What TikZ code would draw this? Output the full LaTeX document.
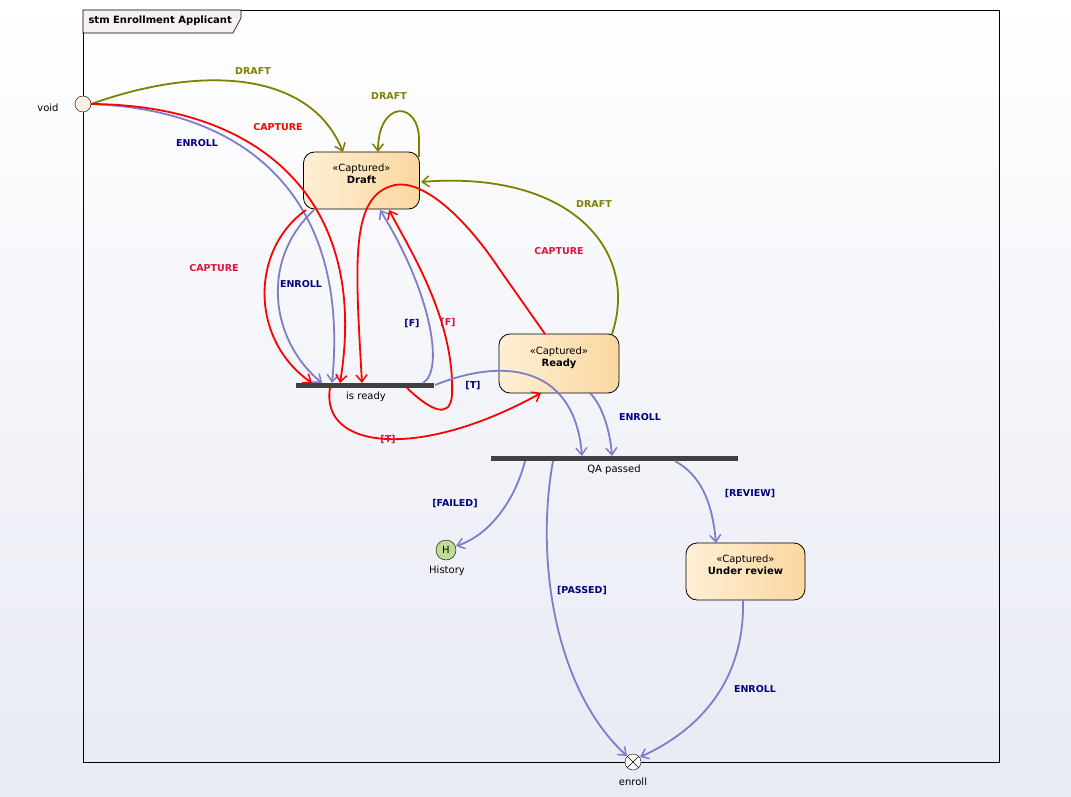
\documentclass[tikz,border=0pt]{standalone}
\usepackage{fontspec}
\setmainfont{DejaVu Sans}
\usetikzlibrary{arrows.meta,shapes.geometric}
\definecolor{olv}{RGB}{128,128,0}
\definecolor{lblue}{RGB}{125,125,200}
\definecolor{nav}{RGB}{0,0,128}
\definecolor{crim}{RGB}{220,20,60}
\definecolor{rd}{RGB}{255,0,0}
\definecolor{fl}{RGB}{255,239,213}
\definecolor{fr}{RGB}{250,215,160}
\tikzset{
 x=1pt,y=-1pt,
 every node/.style={font=\fontsize{10}{12}\selectfont},
 ar/.style={line width=1.8pt,-{Straight Barb[length=7pt,width=11pt,line width=1.5pt]}},
 ol/.style={ar,draw=olv}, re/.style={ar,draw=rd}, bl/.style={ar,draw=lblue},
 st/.style={draw,rounded corners=11pt,line width=0.8pt,minimum width=116pt,minimum height=57pt,left color=fl,right color=fr,align=center,text depth=14pt},
 bar/.style={fill=black!75,minimum height=5pt,inner sep=0pt},
 ln/.style={font=\fontsize{9.5}{11}\selectfont\bfseries,text=nav},
 lc/.style={font=\fontsize{9.5}{11}\selectfont\bfseries,text=crim},
 lo/.style={font=\fontsize{9.5}{11}\selectfont\bfseries,text=olv}
}
\begin{document}
\begin{tikzpicture}
\useasboundingbox (0,0) rectangle (1071,797);
\fill[white] (0,0) rectangle (1071,797);
\shade[top color=white,bottom color={rgb,255:red,232;green,234;blue,244}] (0,0) rectangle (1071,797);
\draw[line width=0.8pt] (83,10) rectangle (999,762);
\filldraw[fill={rgb,255:red,246;green,240;blue,244},line width=0.6pt] (83,10) -- (241,10) -- (241,18) -- (233,33) -- (83,33) -- cycle;
\node[anchor=west,font=\fontsize{10}{12}\selectfont\bfseries] (title) at (85,21) {stm Enrollment Applicant};

\node[st] (draft) at (361.5,180.5) {«Captured»\\\textbf{Draft}};
\node[st,minimum width=120pt,minimum height=59pt] (ready) at (559,363.5) {«Captured»\\\textbf{Ready}};
\node[st,minimum width=119pt] (review) at (745.5,571.5) {«Captured»\\\textbf{Under review}};
\node[bar,minimum width=138pt] (isr) at (365,385.5) {};
\node at (366,397) {is ready};
\node[bar,minimum width=247pt] (qa) at (614.5,458.5) {};
\node at (614,470) {QA passed};
\node[circle,draw,fill={rgb,255:red,253;green,240;blue,226},minimum size=16pt,inner sep=0pt] (void) at (83,104) {};
\node at (48,108) {void};
\node[circle,draw,fill={rgb,255:red,190;green,220;blue,150},minimum size=20pt,inner sep=0pt,font=\fontsize{10}{10}\selectfont] (hist) at (446,550) {H};
\node at (447,571) {History};
\node[circle,draw,fill=white,minimum size=16pt,inner sep=0pt] (enroll) at (633,762) {};
\draw (enroll.north east) -- (enroll.south west) (enroll.north west) -- (enroll.south east);
\node at (633,782) {enroll};

% void transitions
\draw[ol] (void.east) .. controls (200,65) and (310,70) .. (343,152);
\node[lo] at (253,71) {DRAFT};
\draw[bl] (void.east) .. controls (250,110) and (350,200) .. (332,383);
\draw[re] (void.east) .. controls (260,105) and (370,200) .. (340,383);
\node[lc,text=rd] at (278,127) {CAPTURE};
\node[ln] at (197,143) {ENROLL};
% self loop
\draw[ol] (419,157) -- (419,140) .. controls (419,100) and (378,100) .. (378,152);
\node[lo] at (389,96) {DRAFT};
% draft -> is ready
\draw[re] (306,210) .. controls (250,250) and (250,340) .. (312,383);
\node[lc] at (214,268) {CAPTURE};
\draw[bl] (314,210) .. controls (260,260) and (270,340) .. (322,383);
\node[ln] at (301,284) {ENROLL};
% ready -> is ready capture
\draw[re] (545,334) -- (500,270) .. controls (460,210) and (420,180) .. (395,185) .. controls (350,195) and (355,260) .. (362,383);
\node[lc] at (559,251) {CAPTURE};
% [F]
\draw[bl] (423,383) .. controls (445,370) and (430,290) .. (380,210);
\node[ln] at (412,324) {[F]};
\draw[re] (407,388) .. controls (430,410) and (450,420) .. (452,395) .. controls (455,320) and (410,250) .. (389,210);
\node[lc] at (448,323) {[F]};
% [T]
\draw[re] (330,388) .. controls (320,450) and (420,460) .. (541,393);
\node[lc] at (388,440) {[T]};
\draw[bl] (435,385) .. controls (510,355) and (575,370) .. (582,456);
\node[ln] at (473,386) {[T]};
% ready -> draft
\draw[ol] (612,334) .. controls (640,250) and (570,170) .. (421,182);
\node[lo] at (594,204) {DRAFT};
% ready -> qa
\draw[bl] (590,393) .. controls (602,405) and (610,430) .. (612,456);
\node[ln] at (640,417) {ENROLL};
% qa out
\draw[bl] (525,461) .. controls (515,500) and (490,535) .. (456,546);
\node[ln] at (455,504) {[FAILED]};
\draw[bl] (553,461) .. controls (535,560) and (555,690) .. (627,756);
\node[ln] at (582,591) {[PASSED]};
\draw[bl] (675,461) .. controls (700,475) and (712,500) .. (716,543);
\node[ln] at (750,494) {[REVIEW]};
\draw[bl] (743,600) .. controls (745,680) and (700,730) .. (640,757);
\node[ln] at (755,689) {ENROLL};
\end{tikzpicture}
\end{document}
